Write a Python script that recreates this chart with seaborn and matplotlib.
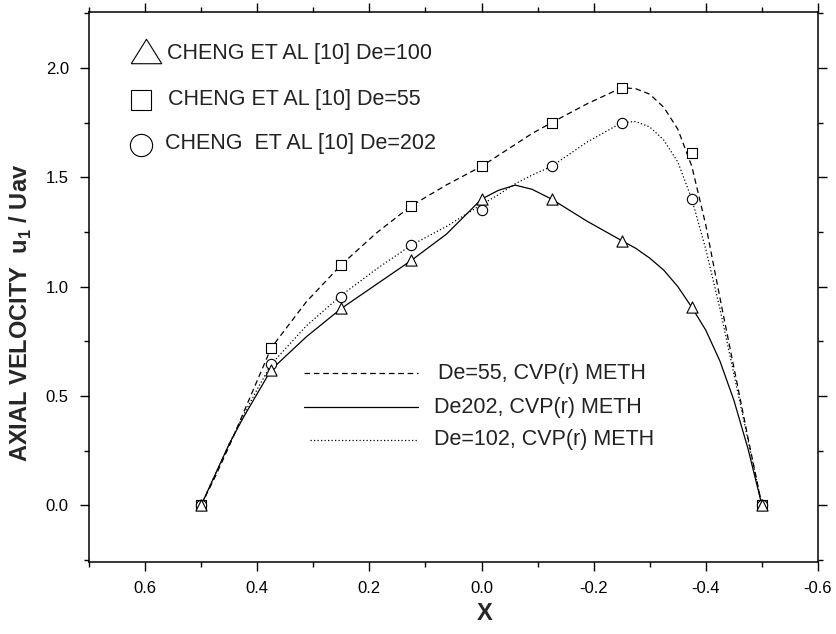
import matplotlib
matplotlib.use("Agg")
import matplotlib.pyplot as plt
import seaborn as sns
import numpy as np
import pandas as pd
from matplotlib.ticker import MultipleLocator, FormatStrFormatter

# ---------------- data ----------------
x_pts = [0.5, 0.375, 0.25, 0.125, 0.0, -0.125, -0.25, -0.375, -0.5]
tri_de100 = [0.0, 0.62, 0.90, 1.12, 1.40, 1.40, 1.21, 0.905, 0.0]
sq_de55 = [0.0, 0.72, 1.10, 1.37, 1.55, 1.75, 1.91, 1.61, 0.0]
circ_de202 = [0.0, 0.645, 0.95, 1.19, 1.35, 1.55, 1.75, 1.40, 0.0]

x_curve = [0.5, 0.475, 0.45, 0.425, 0.4, 0.375, 0.3125, 0.25, 0.1875, 0.125,
           0.0625, 0.0, -0.03, -0.06, -0.09, -0.125, -0.1875, -0.25, -0.275,
           -0.3, -0.325, -0.35, -0.375, -0.4, -0.425, -0.45, -0.475, -0.5]
curve_de55 = [0.0, 0.13, 0.27, 0.42, 0.57, 0.72, 0.93, 1.10, 1.245, 1.37,
              1.465, 1.55, 1.60, 1.65, 1.70, 1.75, 1.835, 1.91, 1.905,
              1.88, 1.82, 1.72, 1.55, 1.28, 0.95, 0.63, 0.31, 0.0]
curve_de202 = [0.0, 0.14, 0.28, 0.40, 0.51, 0.62, 0.77, 0.90, 1.01, 1.12,
               1.24, 1.40, 1.44, 1.464, 1.445, 1.40, 1.30, 1.21, 1.175,
               1.13, 1.075, 1.00, 0.905, 0.80, 0.66, 0.48, 0.26, 0.0]
curve_de102 = [0.0, 0.14, 0.28, 0.41, 0.53, 0.645, 0.82, 0.96, 1.08, 1.19,
               1.275, 1.375, 1.42, 1.47, 1.51, 1.55, 1.66, 1.75, 1.755,
               1.73, 1.67, 1.57, 1.40, 1.17, 0.90, 0.60, 0.30, 0.0]

marker_labels = ["CHENG ET AL [10] De=100", "CHENG ET AL [10] De=55",
                 "CHENG  ET AL [10] De=202"]
line_labels = ["De=55, CVP(r) METH", "De202, CVP(r) METH", "De=102, CVP(r) METH"]
x_ticks = [0.6, 0.4, 0.2, 0.0, -0.2, -0.4, -0.6]
y_ticks = [0.0, 0.5, 1.0, 1.5, 2.0]

# ---------------- style ----------------
sns.set_theme(style="ticks")
plt.rcParams["font.family"] = ["Liberation Sans", "DejaVu Sans"]
plt.rcParams["axes.unicode_minus"] = False
plt.rcParams["mathtext.fontset"] = "custom"
plt.rcParams["mathtext.rm"] = "Liberation Sans"
plt.rcParams["mathtext.bf"] = "Liberation Sans:bold"

W, H = 837, 634
fig = plt.figure(figsize=(W / 100, H / 100), dpi=100)
L, R, T, B = 89, 818, 12, 562
ax = fig.add_axes([L / W, 1 - B / H, (R - L) / W, (B - T) / H])
ax.set_facecolor("white")
fig.patch.set_facecolor("white")

# curves
sns.lineplot(x=x_curve, y=curve_de55, sort=False, estimator=None, ax=ax,
             color="black", lw=0.9, linestyle=(0, (4.5, 3.0)))
sns.lineplot(x=x_curve, y=curve_de202, sort=False, estimator=None, ax=ax,
             color="black", lw=0.9, linestyle="-")
sns.lineplot(x=x_curve, y=curve_de102, sort=False, estimator=None, ax=ax,
             color="black", lw=0.9, linestyle=(0, (1.0, 1.8)))

# markers
sns.scatterplot(x=x_pts, y=sq_de55, marker="s", s=45, facecolor="white",
                edgecolor="black", linewidth=0.8, ax=ax, zorder=3)
sns.scatterplot(x=x_pts, y=circ_de202, marker="o", s=55, facecolor="white",
                edgecolor="black", linewidth=0.8, ax=ax, zorder=3)
sns.scatterplot(x=x_pts, y=tri_de100, marker="^", s=65, facecolor="white",
                edgecolor="black", linewidth=0.8, ax=ax, zorder=4)

# axes
ax.set_xlim(0.7, -0.6)
ax.set_ylim(-0.26, 2.256)
ax.set_xticks(x_ticks)
ax.set_yticks(y_ticks)
ax.xaxis.set_minor_locator(MultipleLocator(0.1))
ax.yaxis.set_minor_locator(MultipleLocator(0.25))
ax.xaxis.set_major_formatter(FormatStrFormatter("%.1f"))
ax.yaxis.set_major_formatter(FormatStrFormatter("%.1f"))
for s in ax.spines.values():
    s.set_visible(True)
    s.set_color("black")
    s.set_linewidth(1.1)
ax.tick_params(which="both", direction="out", top=True, right=True,
               labeltop=False, labelright=False, colors="black", width=1.0)
ax.tick_params(which="major", length=6.5, labelsize=12)
ax.tick_params(which="minor", length=3.5)
ax.tick_params(axis="x", which="major", pad=7)
ax.tick_params(axis="y", which="major", pad=8)
ax.grid(False)

ax.set_xlabel("X", fontsize=17, fontweight="bold", va="center")
ax.set_ylabel(r"AXIAL VELOCITY  u$_\mathregular{1}$ / Uav", fontsize=17,
              fontweight="bold", va="center")
ax.xaxis.set_label_coords((485 - L) / (R - L), (B - 614) / (B - T))
ax.yaxis.set_label_coords((21 - L) / (R - L), (B - 313) / (B - T))


def axc(px, py):
    return (px - L) / (R - L), (B - py) / (B - T)


# marker key
tri_verts = [(-1.0, -0.8), (0.0, 0.8), (1.0, -0.8), (-1.0, -0.8)]
kx, ky = axc(146.5, 51)
ax.plot([kx], [ky], marker=tri_verts, ms=22, mfc="white", mec="black",
        mew=0.8, transform=ax.transAxes, clip_on=False, ls="none")
tx, ty = axc(167, 53)
ax.text(tx, ty, marker_labels[0], transform=ax.transAxes, fontsize=15.5,
        va="center", ha="left", color="#222222")
kx, ky = axc(141, 100)
ax.plot([kx], [ky], marker="s", ms=14, mfc="white", mec="black", mew=0.8,
        transform=ax.transAxes, ls="none")
tx, ty = axc(168, 99)
ax.text(tx, ty, marker_labels[1], transform=ax.transAxes, fontsize=15.5,
        va="center", ha="left", color="#222222")
kx, ky = axc(140.5, 144.5)
ax.plot([kx], [ky], marker="o", ms=16, mfc="white", mec="black", mew=0.8,
        transform=ax.transAxes, ls="none")
tx, ty = axc(165, 144)
ax.text(tx, ty, marker_labels[2], transform=ax.transAxes, fontsize=15.5,
        va="center", ha="left", color="#222222")

# line key
styles = [(0, (4.5, 3.0)), "-", (0, (1.0, 1.8))]
key_rows = [(304, 418, 373, 438), (304, 418, 407, 434), (310, 418, 440, 434)]
for (x0, x1, yy, xt), st, lab in zip(key_rows, styles, line_labels):
    a0 = axc(x0, yy)
    a1 = axc(x1, yy)
    ax.plot([a0[0], a1[0]], [a0[1], a1[1]], color="black", lw=0.9,
            linestyle=st, transform=ax.transAxes)
    t = axc(xt, yy)
    ax.text(t[0], t[1], lab, transform=ax.transAxes, fontsize=15.5,
            va="center", ha="left", color="#222222")

fig.savefig("out.png", dpi=100)
